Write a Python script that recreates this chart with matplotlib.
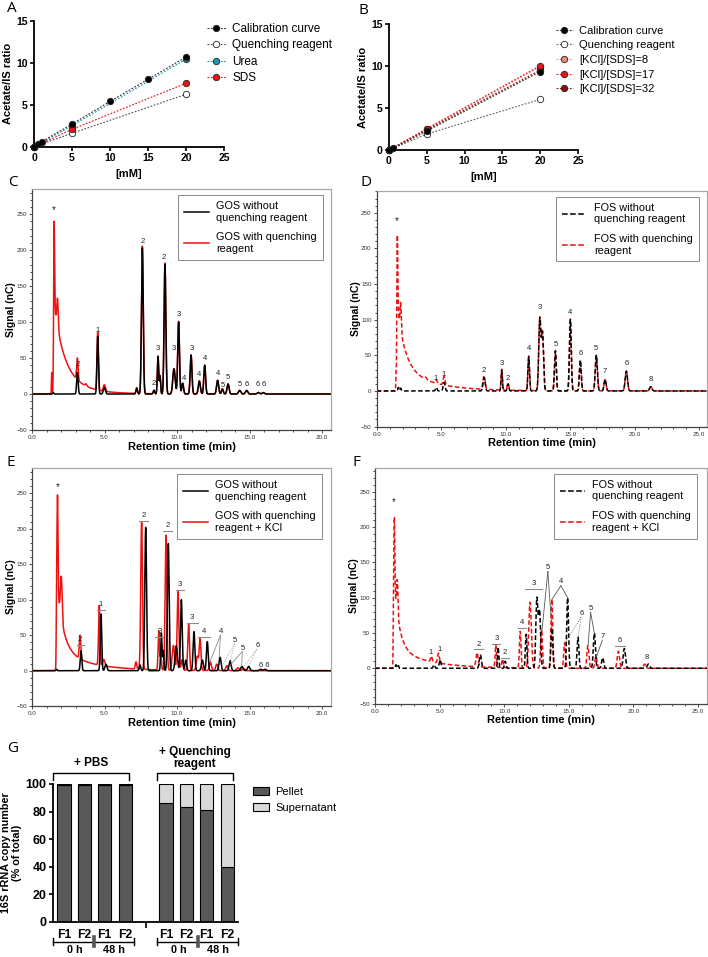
import numpy as np
import matplotlib.pyplot as plt
from matplotlib.lines import Line2D
from matplotlib.ticker import MultipleLocator

plt.rcParams['font.family'] = ['Liberation Sans', 'DejaVu Sans']

# ---- panel A : calibration (acetate/IS ratio vs mM)
a_conc_cal = [0, 0.5, 1, 5, 10, 15, 20]
a_cal = [0, 0.3, 0.6, 2.7, 5.4, 8.05, 10.7]
a_conc = [0, 5, 20]
a_quench = [0, 1.6, 6.25]
a_urea = [0, 2.5, 10.45]
a_sds = [0, 2.07, 7.57]

# ---- panel B
b_conc_cal = [0, 0.5, 5, 20]
b_cal = [0, 0.2, 2.25, 9.33]
b_conc = [0, 5, 20]
b_quench = [0, 1.9, 6.03]
b_k8 = [0, 2.45, 9.9]
b_k17 = [0, 2.55, 10.04]
b_k32 = [0, 2.4, 9.5]

# ---- chromatogram peaks: (retention time, height nC, width sigma)
c_peaks = [(1.47, 2, 0.04), (3.13, 30, 0.05), (4.53, 80, 0.05), (4.99, 9, 0.07),
           (7.22, 8, 0.05), (7.61, 203, 0.06), (8.41, 5, 0.05), (8.69, 52, 0.045),
           (8.83, 25, 0.04), (9.17, 180, 0.06), (9.79, 35, 0.08), (10.11, 100, 0.06),
           (10.39, 15, 0.06), (10.97, 54, 0.06), (11.54, 18, 0.07), (11.91, 40, 0.06),
           (12.80, 19, 0.07), (13.13, 7, 0.06), (13.52, 14, 0.07), (14.32, 5, 0.08),
           (14.80, 5, 0.08), (15.61, 2, 0.08), (15.95, 2, 0.08)]
c_front = [(1.36, 30, 0.02), (1.52, 130, 0.035), (1.76, 40, 0.05), (3.72, 3, 0.06)]
c_tail = (1.5, 100, 0.7, 28, 1.6)

d_black = [(1.68, 5, 0.04), (1.86, 4, 0.04), (4.62, 5, 0.06), (5.22, 12, 0.07),
           (8.32, 19, 0.08), (9.69, 29, 0.05), (10.18, 10, 0.06), (11.78, 48, 0.06),
           (12.64, 100, 0.08), (12.85, 80, 0.08), (13.85, 56, 0.07), (15.01, 100, 0.07),
           (15.78, 43, 0.07), (17.02, 50, 0.08), (17.70, 16, 0.08), (19.35, 28, 0.09),
           (21.24, 6, 0.09)]
d_front = [(1.5, 25, 0.02), (1.6, 103, 0.035), (1.86, 35, 0.05), (3.8, 3, 0.08)]
d_tail = (1.55, 90, 0.6, 35, 2.5)

e_black = [(1.70, 2, 0.04), (3.38, 28, 0.05), (4.76, 80, 0.05), (5.10, 9, 0.07),
           (7.45, 8, 0.05), (7.84, 202, 0.06), (8.92, 53, 0.045), (9.06, 28, 0.04),
           (9.40, 179, 0.06), (9.95, 35, 0.08), (10.30, 100, 0.06), (10.60, 15, 0.06),
           (11.17, 55, 0.06), (11.75, 15, 0.07), (12.09, 41, 0.06), (12.97, 19, 0.07),
           (13.66, 14, 0.07), (14.48, 6, 0.08), (14.94, 6, 0.08), (15.77, 2, 0.08),
           (16.07, 2, 0.08)]
e_red = [(3.31, 33, 0.05), (4.64, 84, 0.05), (4.95, 9, 0.07), (7.17, 10, 0.05),
         (7.56, 207, 0.06), (8.74, 55, 0.045), (8.88, 25, 0.04), (9.24, 190, 0.06),
         (9.75, 35, 0.08), (10.07, 111, 0.06), (10.35, 15, 0.06), (10.80, 65, 0.06),
         (11.40, 20, 0.07), (11.59, 45, 0.06), (12.30, 12, 0.07), (12.74, 9, 0.07),
         (13.43, 7, 0.07), (14.20, 4, 0.08), (14.60, 3, 0.08)]
e_front = [(1.68, 25, 0.02), (1.76, 135, 0.035), (2.02, 60, 0.06)]
e_tail = (1.68, 100, 0.45, 30, 2.2)

f_black = [(1.62, 5, 0.04), (1.80, 4, 0.04), (4.57, 5, 0.06), (5.04, 12, 0.07),
           (8.16, 19, 0.08), (9.53, 30, 0.05), (10.08, 10, 0.06), (11.70, 48, 0.06),
           (12.53, 98, 0.08), (12.74, 80, 0.08), (13.69, 57, 0.07), (14.91, 100, 0.07),
           (15.71, 44, 0.07), (16.98, 50, 0.08), (17.62, 15, 0.08), (19.30, 28, 0.09),
           (21.16, 6, 0.09)]
f_red = [(4.36, 8, 0.06), (4.91, 14, 0.07), (7.90, 20, 0.08), (9.35, 32, 0.05),
         (9.87, 12, 0.06), (11.24, 52, 0.06), (12.00, 93, 0.1), (12.89, 55, 0.07),
         (13.69, 98, 0.07), (14.68, 36, 0.07), (16.48, 32, 0.08), (17.10, 17, 0.08),
         (18.84, 24, 0.09), (20.88, 6, 0.09)]
f_front = [(1.42, 25, 0.02), (1.5, 95, 0.035), (1.73, 48, 0.05)]
f_tail = (1.42, 110, 0.4, 30, 2.5)

# peak labels (time, y, text)
c_labels = [(1.52, 249, '*'), (3.13, 36, '2'), (4.53, 84, '1'), (7.61, 207, '2'),
            (8.41, 10, '2'), (8.69, 59, '3'), (9.1, 185, '2'), (9.75, 59, '3'),
            (10.11, 105, '3'), (10.48, 17, '4'), (11.01, 59, '3'), (11.54, 22, '4'),
            (11.95, 44, '4'), (12.85, 23, '4'), (13.13, 7, '5'), (13.52, 18, '5'),
            (14.34, 9, '5'), (14.8, 9, '6'), (15.59, 9, '6'), (15.95, 9, '6')]
d_labels = [(1.55, 231, '*'), (4.56, 13, '1'), (5.2, 18, '1'), (8.3, 24, '2'),
            (9.68, 34, '3'), (10.17, 13, '2'), (11.78, 54, '4'), (12.63, 112, '3'),
            (13.85, 60, '5'), (15.01, 105, '4'), (15.78, 48, '6'), (17.02, 54, '5'),
            (17.7, 22, '7'), (19.35, 34, '6'), (21.24, 11, '8')]
e_labels = [(1.75, 251, '*'), (3.31, 39, '2'), (4.74, 89, '1'), (7.7, 214, '2'),
            (9.36, 200, '2'), (8.83, 51, '3'), (10.16, 117, '3'), (11.03, 70, '3'),
            (11.86, 51, '4'), (13.03, 50, '4'), (14.0, 38, '5'), (14.53, 27, '5'),
            (15.56, 30, '6'), (16.0, 2, '6 6')]
e_bars = [(3.08, 3.59, 36), (4.46, 5.03, 86), (7.4, 7.98, 211), (9.06, 9.63, 197),
          (8.48, 9.06, 48), (9.91, 10.48, 114), (10.67, 11.47, 67), (11.47, 12.28, 48)]
e_leaders = [((13.0, 50), [(12.3, 14), (12.9, 18)], '-'),
             ((13.95, 38), [(13.2, 10), (13.66, 12)], ':'),
             ((14.5, 27), [(13.72, 9), (14.46, 7)], '-'),
             ((15.5, 30), [(14.58, 5), (14.92, 5)], ':')]
f_labels = [(1.45, 228, '*'), (4.3, 18, '1'), (4.97, 21, '1'), (8.0, 29, '2'),
            (9.39, 37, '3'), (10.06, 17, '2'), (11.41, 60, '4'), (12.26, 115, '3'),
            (13.38, 138, '5'), (14.39, 118, '4'), (16.02, 72, '6'), (16.69, 79, '5'),
            (17.65, 40, '7'), (18.91, 35, '6'), (21.03, 11, '8')]
f_bars = [(7.7, 8.35, 27), (9.04, 9.69, 35), (9.74, 10.39, 15), (11.08, 11.72, 57),
          (11.61, 12.96, 112), (18.6, 19.38, 32)]
f_leaders = [((13.38, 137), [(12.92, 52), (13.69, 57)], '-'),
             ((14.39, 117), [(13.72, 98), (14.91, 100)], '-'),
             ((15.95, 72), [(14.72, 37), (15.72, 44)], ':'),
             ((16.69, 79), [(16.5, 33), (16.98, 50)], '-'),
             ((17.6, 40), [(17.15, 17)], '-')]

# ---- panel G
g_pos = [0, 1, 2, 3, 5, 6, 7, 8]
g_ticklabels = ['F1', 'F2', 'F1', 'F2', 'F1', 'F2', 'F1', 'F2']
g_pellet = [99, 99, 99, 99.5, 86, 83, 81, 40]
g_super = [100 - p for p in g_pellet]


def peaks_sum(t, peaks):
    y = np.zeros_like(t)
    for c, h, s in peaks:
        y += h * np.exp(-0.5 * ((t - c) / s) ** 2)
    return y


def tail(t, t0, a1, tau1, a2, tau2):
    on = 1 / (1 + np.exp(-(t - t0) / 0.012))
    dt = np.clip(t - t0, 0, None)
    return on * (a1 * np.exp(-dt / tau1) + a2 * np.exp(-dt / tau2))


W, H = 708, 957
fig = plt.figure(figsize=(W / 100, H / 100), dpi=100)


def rect(x0, y0, x1, y1):
    return [x0 / W, 1 - y1 / H, (x1 - x0) / W, (y1 - y0) / H]


def calib_axes(r):
    ax = fig.add_axes(r)
    ax.set_xlim(0, 25)
    ax.set_ylim(0, 15)
    ax.set_xticks([0, 5, 10, 15, 20, 25])
    ax.set_yticks([0, 5, 10, 15])
    for s in ['top', 'right']:
        ax.spines[s].set_visible(False)
    for s in ['left', 'bottom']:
        ax.spines[s].set_linewidth(1.3)
    ax.tick_params(length=3, width=1.2, labelsize=7.5, pad=1.5)
    for lab in ax.get_xticklabels() + ax.get_yticklabels():
        lab.set_fontweight('bold')
    ax.set_xlabel('[mM]', fontsize=8, fontweight='bold', labelpad=4)
    ax.set_ylabel('Acetate/IS ratio', fontsize=8, fontweight='bold', labelpad=2)
    return ax


def series(ax, x, y, fc, lc, label, z=3):
    return ax.plot(x, y, linestyle=(0, (1.6, 1.4)), lw=0.8, color=lc, marker='o',
                   markersize=4.6, markerfacecolor=fc, markeredgecolor='#222222',
                   markeredgewidth=0.6, label=label, clip_on=False, zorder=z)[0]


# A
axA = calib_axes(rect(34, 21, 224, 146.7))
hA = [series(axA, a_conc_cal, a_cal, 'black', '#333333', 'Calibration curve', 5),
      series(axA, a_conc, a_quench, 'white', '#555555', 'Quenching reagent', 4),
      series(axA, a_conc, a_urea, '#1f9bb0', '#1f9bb0', 'Urea', 4),
      series(axA, a_conc, a_sds, '#e8141a', '#e8141a', 'SDS', 4)]
axA.legend(handles=hA, loc='upper left', bbox_to_anchor=(201 / W, 1 - 17 / H),
           bbox_transform=fig.transFigure, frameon=False, fontsize=8.5,
           handlelength=1.6, handletextpad=0.55, labelspacing=0.38, borderpad=0)

# B
axB = calib_axes(rect(389, 24, 578, 150))
hB = [series(axB, b_conc_cal, b_cal, 'black', '#333333', 'Calibration curve', 6),
      series(axB, b_conc, b_quench, 'white', '#666666', 'Quenching reagent', 4),
      series(axB, b_conc, b_k8, '#f08a80', '#f08a80', '[KCl]/[SDS]=8', 3),
      series(axB, b_conc, b_k17, '#e8141a', '#e8141a', '[KCl]/[SDS]=17', 5),
      series(axB, b_conc, b_k32, '#8b1010', '#8b1010', '[KCl]/[SDS]=32', 3)]
axB.legend(handles=hB, loc='upper left', bbox_to_anchor=(550 / W, 1 - 20 / H),
           bbox_transform=fig.transFigure, frameon=False, fontsize=8,
           handlelength=1.6, handletextpad=0.5, labelspacing=0.42, borderpad=0)


def chrom_axes(r, xmax, ytop, ypad):
    ax = fig.add_axes(r)
    ax.set_xlim(0, xmax)
    ax.set_ylim(-50, ytop)
    for s in ['top', 'right']:
        ax.spines[s].set_color('#a8a8a8')
    for s in ['left', 'bottom']:
        ax.spines[s].set_color('#444444')
    for s in ax.spines.values():
        s.set_linewidth(0.9)
    xt = np.arange(0, xmax, 5)
    ax.set_xticks(xt)
    ax.set_xticklabels(['%.1f' % v for v in xt])
    ax.set_yticks(range(-50, 251, 50))
    ax.xaxis.set_minor_locator(MultipleLocator(1))
    ax.yaxis.set_minor_locator(MultipleLocator(10))
    ax.tick_params(labelsize=4.5, length=2.5, width=0.6, pad=1.2, colors='#333333')
    ax.tick_params(which='minor', length=1.3, width=0.5)
    ax.set_ylabel('Signal (nC)', fontsize=7.5, fontweight='bold', labelpad=ypad)
    ax.set_xlabel('Retention time (min)', fontsize=8, fontweight='bold', labelpad=1)
    return ax


def put_labels(ax, labels):
    for x, y, s in labels:
        ax.text(x, y, s, fontsize=7 if s == '*' else 5.5, ha='center', va='bottom',
                color='#222222')


def chrom_legend(ax, ls, labels, anchor):
    hs = [Line2D([], [], color='black', lw=1.1, linestyle=ls),
          Line2D([], [], color='#ee1111', lw=1.1, linestyle=ls)]
    leg = ax.legend(hs, labels, loc='upper right', bbox_to_anchor=anchor, fontsize=7.8,
                    frameon=True, fancybox=False, edgecolor='#8a8a8a', framealpha=1,
                    handlelength=2.3, handletextpad=0.7, labelspacing=0.9,
                    borderpad=0.55, borderaxespad=0)
    leg.get_frame().set_linewidth(0.7)


dash = (0, (3, 1.6))
lw_c = 1.1

# C
axC = chrom_axes(rect(32, 189, 331, 430), 20.62, 285, 0)
tC = np.linspace(0, 20.62, 5000)
blackC = peaks_sum(tC, c_peaks)
redC = blackC * 1.01 + peaks_sum(tC, c_front) + tail(tC, *c_tail)
axC.plot(tC, redC, color='#ee1111', lw=lw_c)
axC.plot(tC, blackC, color='black', lw=lw_c)
put_labels(axC, c_labels)
chrom_legend(axC, '-', ['GOS without\nquenching reagent', 'GOS with quenching\nreagent'],
             (0.973, 0.975))

# D
axD = chrom_axes(rect(376.7, 190.7, 707, 426.6), 25.6, 281, 0)
tD = np.linspace(0, 25.6, 5000)
blackD = peaks_sum(tD, d_black)
redD = blackD * 1.01 + peaks_sum(tD, d_front) + tail(tD, *d_tail)
axD.plot(tD, redD, color='#ee1111', lw=lw_c, linestyle=dash)
axD.plot(tD, blackD, color='black', lw=lw_c, linestyle=dash)
put_labels(axD, d_labels)
chrom_legend(axD, '--', ['FOS without\nquenching reagent', 'FOS with quenching\nreagent'],
             (0.975, 0.975))

# E
axE = chrom_axes(rect(32, 468, 331, 706.2), 20.62, 285.6, 0)
tE = np.linspace(0, 20.62, 5000)
blackE = peaks_sum(tE, e_black)
redE = peaks_sum(tE, e_red) + peaks_sum(tE, e_front) + tail(tE, *e_tail)
axE.plot(tE, redE, color='#ee1111', lw=lw_c)
axE.plot(tE, blackE, color='black', lw=lw_c)
put_labels(axE, e_labels)
for x0, x1, y in e_bars:
    axE.plot([x0, x1], [y, y], color='#8c8c8c', lw=0.8)
for (lx, ly), ends, ls in e_leaders:
    for ex, ey in ends:
        axE.plot([lx, ex], [ly, ey], color='#8c8c8c', lw=0.6, linestyle=ls)
chrom_legend(axE, '-', ['GOS without\nquenching reagent', 'GOS with quenching\nreagent + KCl'],
             (0.97, 0.975))

# F
axF = chrom_axes(rect(375, 468, 707, 703.6), 25.7, 283.6, 0)
tF = np.linspace(0, 25.7, 5000)
blackF = peaks_sum(tF, f_black)
redF = peaks_sum(tF, f_red) + peaks_sum(tF, f_front) + tail(tF, *f_tail)
axF.plot(tF, redF, color='#ee1111', lw=lw_c, linestyle=dash)
axF.plot(tF, blackF, color='black', lw=lw_c, linestyle=dash)
put_labels(axF, f_labels)
for x0, x1, y in f_bars:
    axF.plot([x0, x1], [y, y], color='#8c8c8c', lw=0.8)
for (lx, ly), ends, ls in f_leaders:
    for ex, ey in ends:
        axF.plot([lx, ex], [ly, ey], color='#555555', lw=0.6, linestyle=ls)
chrom_legend(axF, '--', ['FOS without\nquenching reagent', 'FOS with quenching\nreagent + KCl'],
             (0.97, 0.975))

# G
axG = fig.add_axes(rect(53, 784, 238, 922))
axG.bar(g_pos, g_pellet, width=0.64, color='#595959', edgecolor='black', lw=0.8,
        label='Pellet')
axG.bar(g_pos, g_super, bottom=g_pellet, width=0.64, color='#d9d9d9', edgecolor='black',
        lw=0.8, label='Supernatant')
axG.set_xlim(-0.54, 8.53)
axG.set_ylim(0, 100)
axG.set_yticks(range(0, 101, 20))
for s in ['top', 'right']:
    axG.spines[s].set_visible(False)
for s in ['left', 'bottom']:
    axG.spines[s].set_linewidth(1.3)
axG.set_xticks(g_pos)
axG.set_xticklabels(g_ticklabels)
axG.set_xticks([4], minor=True)
axG.tick_params(axis='x', length=0, pad=5, labelsize=8.8)
axG.tick_params(axis='x', which='minor', length=4, width=1.2)
axG.tick_params(axis='y', length=3, width=1.2, labelsize=9, pad=1.5)
for lab in axG.get_xticklabels() + axG.get_yticklabels():
    lab.set_fontweight('bold')
axG.set_ylabel('16S rRNA copy number\n(% of total)', fontsize=7.8, fontweight='bold',
               labelpad=3, linespacing=1.1)
axG.legend(loc='upper left', bbox_to_anchor=(247 / W, 1 - 781 / H),
           bbox_transform=fig.transFigure, frameon=False, fontsize=8,
           handlelength=1.45, handleheight=0.8, handletextpad=0.6, labelspacing=0.55,
           borderpad=0)
# brackets above groups
for x0, x1, txt, ty in [(-0.54, 3.2, '+ PBS', 111), (4.56, 8.28, '+ Quenching\nreagent', 110)]:
    axG.plot([x0, x0, x1, x1], [103, 108, 108, 103], color='black', lw=1.0, clip_on=False)
    axG.text((x0 + x1) / 2, ty, txt, ha='center', va='bottom', fontsize=8.5,
             fontweight='bold', linespacing=1.05)
# time brackets below axis
tr = axG.get_xaxis_transform()
for x0, xm, x1 in [(-0.54, 1.47, 3.43), (4.56, 6.57, 8.53)]:
    axG.plot([x0, x1], [-0.145, -0.145], color='black', lw=1.0, transform=tr, clip_on=False)
    for xx in (x0, x1):
        axG.plot([xx, xx], [-0.115, -0.17], color='black', lw=1.0, transform=tr,
                 clip_on=False)
    axG.plot([xm, xm], [-0.11, -0.175], color='#555555', lw=2.6, transform=tr,
             clip_on=False)
    axG.text((x0 + xm) / 2 + 0.05, -0.205, '0 h', ha='center', va='center', fontsize=7.8,
             fontweight='bold', transform=tr)
    axG.text((xm + x1) / 2, -0.205, '48 h', ha='center', va='center', fontsize=7.8,
             fontweight='bold', transform=tr)

# panel letters
for x, y, s in [(7, 9, 'A'), (359, 11, 'B'), (8, 183, 'C'), (360, 183, 'D'),
                (6, 462, 'E'), (353, 462, 'F'), (7, 748, 'G')]:
    fig.text(x / W, 1 - y / H, s, fontsize=11, family=['Open Sans', 'DejaVu Sans'],
             ha='left', va='center')

fig.savefig('out.png', dpi=100)
